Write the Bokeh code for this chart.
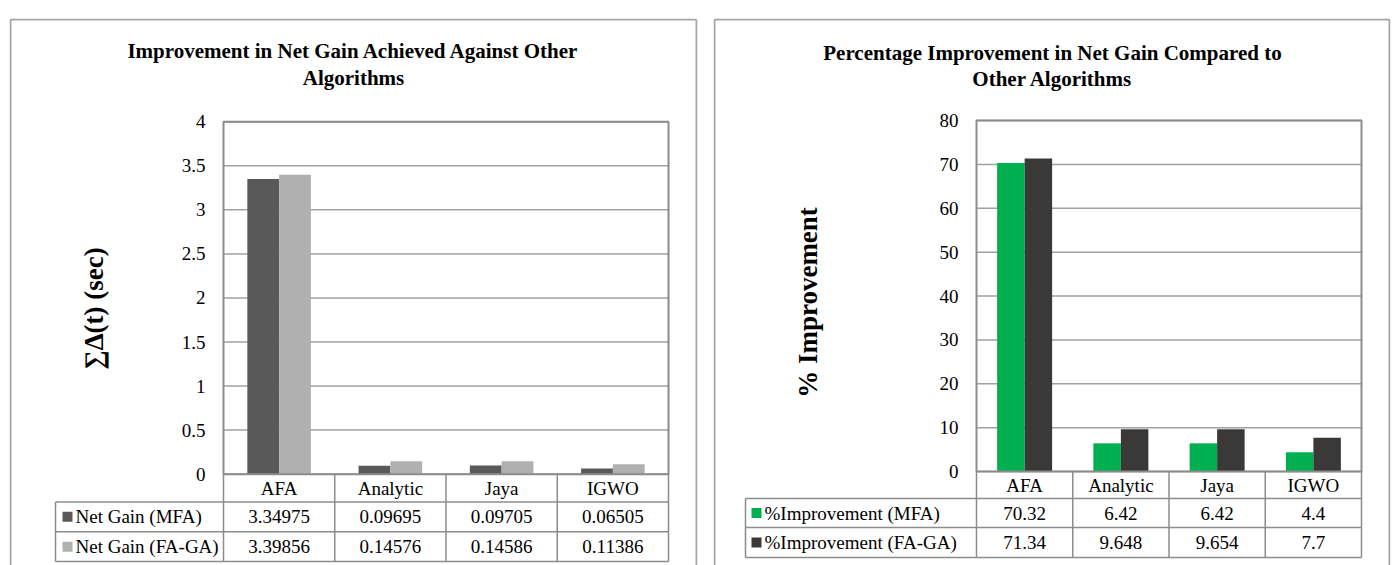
import numpy as np
from bokeh.plotting import figure
from bokeh.layouts import row
from bokeh.models import LinearAxis, FixedTicker, NumeralTickFormatter, Range1d
from bokeh.core.properties import value
from bokeh.embed import file_html
from bokeh.resources import INLINE

# ---------------- data ----------------
categories = ["AFA", "Analytic", "Jaya", "IGWO"]

net_gain_mfa = [3.34975, 0.09695, 0.09705, 0.06505]
net_gain_fa_ga = [3.39856, 0.14576, 0.14586, 0.11386]
net_gain_ticks = [0, 0.5, 1, 1.5, 2, 2.5, 3, 3.5, 4]

pct_mfa = [70.32, 6.42, 6.42, 4.4]
pct_fa_ga = [71.34, 9.648, 9.654, 7.7]
pct_ticks = [0, 10, 20, 30, 40, 50, 60, 70, 80]

SERIF = "Liberation Serif"
PAGE_TOP = 0
HEIGHT = 565
BORDER = "#a6a6a6"
TABLE_LINE = "#8c8c8c"


def panel(cfg):
    n = len(categories)
    pl, pr, pt, p0 = cfg["plot_px"]
    ticks = cfg["ticks"]
    ymax = ticks[-1]

    def X(px):
        return (px - pl) / (pr - pl) * n

    def Y(py):
        return (p0 - py) / (p0 - pt) * ymax

    fl, fr, ft, fb = cfg["frame_px"]
    cl, width = cfg["canvas_left"], cfg["width"]
    p = figure(width=width, height=HEIGHT, output_backend="svg", toolbar_location=None,
               x_range=Range1d(X(fl), X(fr)), y_range=Range1d(Y(fb), Y(ft)),
               x_axis_type=None, y_axis_type=None,
               min_border_left=fl - cl, min_border_right=cl + width - fr,
               min_border_top=ft - PAGE_TOP, min_border_bottom=PAGE_TOP + HEIGHT - fb)
    p.outline_line_color = None
    p.background_fill_color = "white"
    p.border_fill_color = "white"

    # panel border: top, left, right (bottom runs off the page)
    bx0, bx1, by0, by1 = X(fl + 1), X(fr - 1), Y(ft + 1), Y(fb)
    p.segment(x0=[bx0, bx0, bx1], x1=[bx1, bx0, bx1], y0=[by0, by0, by0], y1=[by0, by1, by1],
              line_color=BORDER, line_width=2)

    # gridlines inside plot area
    p.segment(x0=0, x1=n, y0=ticks, y1=ticks, line_color="#a0a0a0", line_width=1.5)

    # bars
    bw = 1 / 3.5
    xc = np.arange(n) + 0.5
    s1, s2 = cfg["series"]
    p.vbar(x=xc - bw / 2, top=s1["values"], width=bw, bottom=0,
           fill_color=s1["color"], line_color=None)
    p.vbar(x=xc + bw / 2, top=s2["values"], width=bw, bottom=0,
           fill_color=s2["color"], line_color=None)

    # plot-area border
    p.quad(left=0, right=n, bottom=0, top=ymax, fill_color=None,
           line_color="#8c8c8c", line_width=2)

    # data table
    rh, r1, r2 = cfg["rows_px"]
    yh, y1, y2 = Y(rh), Y(r1), Y(r2)
    xl = X(cfg["label_left_px"])
    p.segment(x0=xl, x1=n, y0=[yh, y1, y2], y1=[yh, y1, y2], line_color=TABLE_LINE, line_width=1.5)
    p.segment(x0=[xl], x1=[xl], y0=[yh], y1=[y2], line_color=TABLE_LINE, line_width=1.5)
    vx = np.arange(n + 1)
    p.segment(x0=vx, x1=vx, y0=0, y1=y2, line_color=TABLE_LINE, line_width=1.5)

    fs = "19px"
    header_y = yh / 2
    p.text(x=xc, y=[header_y] * n, text=categories, text_font=value(SERIF),
           text_font_size=value(fs), text_align="center", text_baseline="middle",
           text_color="black")
    row_y = [(yh + y1) / 2, (y1 + y2) / 2]
    for s, yy in zip(cfg["series"], row_y):
        p.text(x=xc, y=[yy] * n, text=[str(v) for v in s["values"]], text_font=value(SERIF),
               text_font_size=value(fs), text_align="center", text_baseline="middle",
               text_color="black")
    p.scatter(x=[X(cfg["key_px"])] * 2, y=row_y, marker="square", size=10,
              fill_color=[s1["color"], s2["color"]], line_color=None)
    p.text(x=[X(cfg["label_text_px"])] * 2, y=row_y, text=[s1["name"], s2["name"]],
           text_font=value(SERIF), text_font_size=value(fs), text_align="left",
           text_baseline="middle", text_color="black")

    # title
    tx, ty = cfg["title_px"]
    p.text(x=[X(tx)] * len(ty), y=[Y(v) for v in ty], text=cfg["title"],
           text_font=value(SERIF), text_font_size=value("21px"), text_font_style="bold",
           text_align="center", text_baseline="middle", text_color="black")

    # y-axis title
    ax_x, ax_y = cfg["ytitle_px"]
    p.text(x=[X(ax_x)], y=[Y(ax_y)], text=[cfg["ytitle"]], angle=np.pi / 2,
           text_font=value(SERIF), text_font_size=value("27px"), text_font_style="bold",
           text_align="center", text_baseline="middle", text_color="black")

    # y axis (tick labels) fixed at the plot-area left edge
    ax = LinearAxis(fixed_location=0, bounds=(0, ymax), ticker=FixedTicker(ticks=ticks),
                    formatter=NumeralTickFormatter(format="0.[0]"),
                    axis_line_color=None, major_tick_line_color=None, minor_tick_line_color=None,
                    major_tick_out=0, major_tick_in=0, major_label_standoff=18,
                    major_label_text_font=SERIF, major_label_text_font_size="19px",
                    major_label_text_color="black")
    p.add_layout(ax, "left")
    return p


left = panel(dict(
    canvas_left=0, width=705,
    frame_px=(9, 697, 14, 565),
    plot_px=(223, 668, 118, 473),
    ticks=net_gain_ticks,
    rows_px=(501, 531, 561),
    label_left_px=55, key_px=67, label_text_px=75,
    title=["Improvement in Net Gain Achieved Against Other", "Algorithms"],
    title_px=(353, (47, 74)),
    ytitle="\u2211\u0394(t) (sec)", ytitle_px=(93, 306),
    series=[dict(name="Net Gain (MFA)", values=net_gain_mfa, color="#595959"),
            dict(name="Net Gain (FA-GA)", values=net_gain_fa_ga, color="#b0b0b0")],
))

right = panel(dict(
    canvas_left=705, width=689,
    frame_px=(713, 1390, 18, 565),
    plot_px=(976, 1361, 120, 471),
    ticks=pct_ticks,
    rows_px=(498, 527, 557),
    label_left_px=745, key_px=756, label_text_px=764,
    title=["Percentage Improvement in Net Gain Compared to", "Other Algorithms"],
    title_px=(1052, (52, 78)),
    ytitle="% Improvement", ytitle_px=(807, 302),
    series=[dict(name="%Improvement (MFA)", values=pct_mfa, color="#00b050"),
            dict(name="%Improvement (FA-GA)", values=pct_fa_ga, color="#3b3838")],
))

layout = row(left, right)
open("out.html", "w").write(file_html(layout, INLINE))
